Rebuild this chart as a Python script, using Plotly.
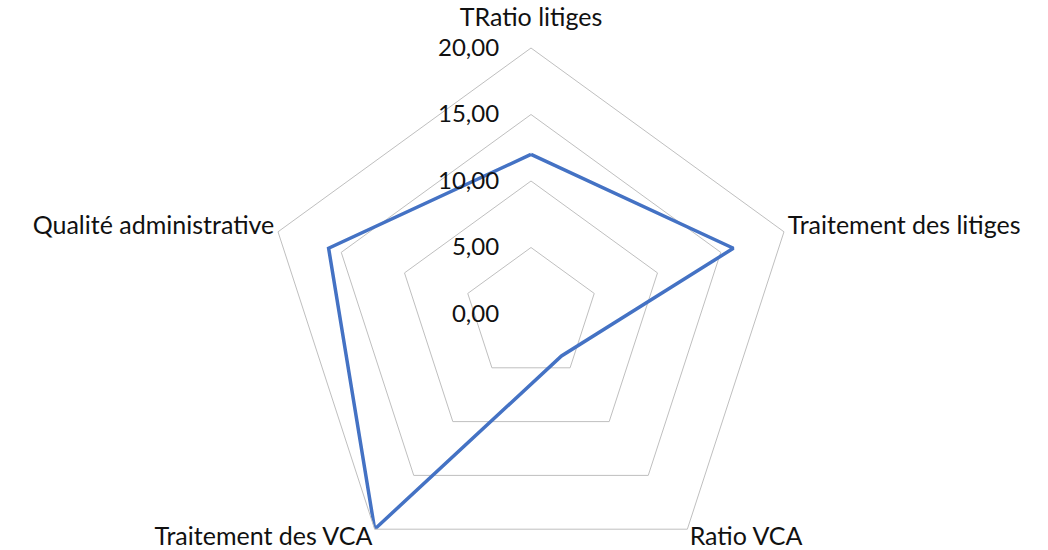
import plotly.graph_objects as go

categories = ["TRatio litiges", "Traitement des litiges", "Ratio VCA",
              "Traitement des VCA", "Qualité administrative"]
values = [12.0, 16.0, 3.9, 20.0, 16.0]
radial_ticks = [0, 5, 10, 15, 20]

W, H = 1048, 600
cx, cy, R = 531, 314, 266
LABEL_PX = 25

# category labels: rendered at 25px; the top one gets an empty second line
# so that plotly lifts it a little further above the outer ring
ticktext = []
for i, c in enumerate(categories):
    t = f'<span style="font-size:{LABEL_PX}px">{c}</span>'
    if i == 0:
        t += "<br> "
    ticktext.append(t)

fig = go.Figure(go.Scatterpolar(
    r=values + values[:1],
    theta=categories + categories[:1],
    mode="lines",
    line=dict(color="#4472C4", width=3.5),
    hoverinfo="skip",
))

fig.update_layout(
    width=W, height=H,
    margin=dict(l=0, r=0, t=0, b=0),
    paper_bgcolor="white",
    showlegend=False,
    separators=", ",
    font=dict(family="Lato, Carlito, sans-serif", size=24, color="#111111"),
    polar=dict(
        bgcolor="white",
        gridshape="linear",
        domain=dict(x=[(cx - R) / W, (cx + R) / W],
                    y=[(H - cy - R) / H, (H - cy + R) / H]),
        radialaxis=dict(
            range=[0, 20], tickvals=radial_ticks, tickformat=".2f",
            angle=90, side="counterclockwise", tickangle=90,
            showline=False, gridcolor="#BFBFBF", gridwidth=1,
            ticks="outside", ticklen=23, tickcolor="rgba(0,0,0,0)",
            tickfont=dict(size=24),
        ),
        angularaxis=dict(
            direction="clockwise", rotation=90,
            tickmode="array", tickvals=categories, ticktext=ticktext,
            showgrid=False, showline=True, linecolor="#BFBFBF", linewidth=1,
            ticks="outside", ticklen=1, tickcolor="rgba(0,0,0,0)",
            tickfont=dict(size=12),
        ),
    ),
)

fig.write_html("out.html", config={"displayModeBar": False},
               post_script="document.body.style.margin='0';document.body.style.overflow='hidden';")
